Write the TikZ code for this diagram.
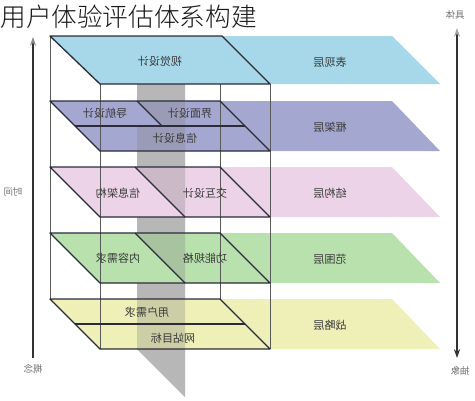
\documentclass[tikz,border=0pt]{standalone}
\usepackage{fontspec}
\setmainfont{Noto Sans CJK SC}
\newfontfamily\titlefont{Noto Sans CJK SC Light}
\usepackage{xcolor}
\usetikzlibrary{arrows.meta}

\definecolor{blueL}{HTML}{A6D8EA}
\definecolor{purpleL}{HTML}{A4A7CF}
\definecolor{pinkL}{HTML}{ECD3E7}
\definecolor{greenL}{HTML}{B8E1AE}
\definecolor{yellowL}{HTML}{EEF0B7}
\definecolor{stripG}{HTML}{D0D0D0}
\definecolor{shadeG}{HTML}{808080}
\definecolor{edge}{HTML}{2B2B3A}
\definecolor{txt}{HTML}{3A3A3A}

\begin{document}
\begin{tikzpicture}[
    x=0.02cm, y=-0.02cm,
    plane/.style={draw=edge, line width=0.75pt, line join=round},
    boxline/.style={draw=black!65, line width=0.4pt},
    shade/.style={fill=shadeG, fill opacity=0.3},
    celltext/.style={xscale=-1, font=\fontsize{6.3}{7}\selectfont, text=txt, inner sep=1pt},
    axistext/.style={xscale=-1, font=\fontsize{5.4}{6}\selectfont, text=black!55, inner sep=1pt},
    axisline/.style={draw=black!80, line width=0.75pt}
]
\useasboundingbox (0,0) rectangle (475,400);

% gray strip behind the layers
\fill[stripG] (137,84) -- (185,84) -- (185,397) -- (137,349) -- cycle;

% bands
\fill[blueL] (50,36) -- (392,36) -- (440,84) -- (100,84) -- cycle;
\fill[purpleL] (50,101) -- (392,101) -- (440,151) -- (100,151) -- cycle;
\fill[pinkL] (50,167) -- (392,167) -- (440,217) -- (100,217) -- cycle;
\fill[greenL] (50,233) -- (392,233) -- (440,283) -- (100,283) -- cycle;
\fill[yellowL] (50,299) -- (392,299) -- (440,349) -- (100,349) -- cycle;

% strip seen through the layers
\fill[shade] (137,84) -- (185,84) -- (185,397) -- (137,349) -- cycle;

% front pieces
\fill[purpleL] (50,101) -- (137,101) -- (162,126) -- (75,126) -- cycle;
\fill[pinkL] (50,167) -- (135,167) -- (185,217) -- (100,217) -- cycle;
\fill[greenL] (50,233) -- (135,233) -- (185,283) -- (100,283) -- cycle;

% box edges
\draw[boxline] (50,36) -- (50,299);
\draw[boxline] (100,84) -- (100,349);
\draw[boxline] (220,84) -- (220,299);
\draw[boxline] (270,84) -- (270,349);

% Layer 1
\draw[plane] (50,36) -- (222,36) -- (270,84) -- (100,84) -- cycle;
\node (visual) [celltext] at (160,61) {视觉设计};
\node (surface) [celltext] at (330,62) {表现层};

% Layer 2
\draw[plane] (50,101) -- (220,101) -- (270,151) -- (100,151) -- cycle;
\draw[plane] (75,126) -- (245,126);
\draw[plane] (137,101) -- (162,126);
\node (nav) [celltext] at (105,113) {导航设计};
\node (iface) [celltext] at (190,113) {界面设计};
\node (info) [celltext] at (175,138) {信息设计};
\node (skeleton) [celltext] at (330,127) {框架层};

% Layer 3
\draw[plane] (50,167) -- (220,167) -- (270,217) -- (100,217) -- cycle;
\draw[plane] (135,167) -- (185,217);
\node (infoarch) [celltext] at (118,193) {信息架构};
\node (interact) [celltext] at (205,193) {交互设计};
\node (structure) [celltext] at (330,193) {结构层};

% Layer 4
\draw[plane] (50,233) -- (220,233) -- (270,283) -- (100,283) -- cycle;
\draw[plane] (135,233) -- (185,283);
\node (content) [celltext] at (118,258) {内容需求};
\node (func) [celltext] at (205,258) {功能规格};
\node (scopelayer) [celltext] at (330,259) {范围层};

% Layer 5
\draw[plane] (50,299) -- (220,299) -- (270,349) -- (100,349) -- cycle;
\draw[plane] (75,324) -- (245,324);
\node (needs) [celltext] at (147,312) {用户需求};
\node (goals) [celltext] at (173,338) {网站目标};
\node (strategy) [celltext] at (330,325) {战略层};

% axes
\coordinate (ltop) at (33,37);
\coordinate (lbot) at (33,358);
\coordinate (rtop) at (457,28);
\coordinate (rbot) at (457,358);
\draw[axisline, -{Stealth[length=5pt, width=3.5pt, color=black!45]}] (lbot) -- (ltop);
\draw[axisline, {Stealth[length=5pt, width=3.5pt, color=black!35]}-{Stealth[length=5pt, width=3.5pt]}] (rtop) -- (rbot);
\node (time) [axistext] at (13,192) {时间};
\node (concept) [axistext] at (33,369) {概念};
\node (concrete) [axistext] at (455,15) {具体};
\node (abstract) [axistext] at (460,371) {抽象};

% title
\node (title) [anchor=west, inner sep=0pt, font=\titlefont\fontsize{14.6}{16}\selectfont, text=black!90] at (0,17) {用户体验评估体系构建};

\end{tikzpicture}
\end{document}
